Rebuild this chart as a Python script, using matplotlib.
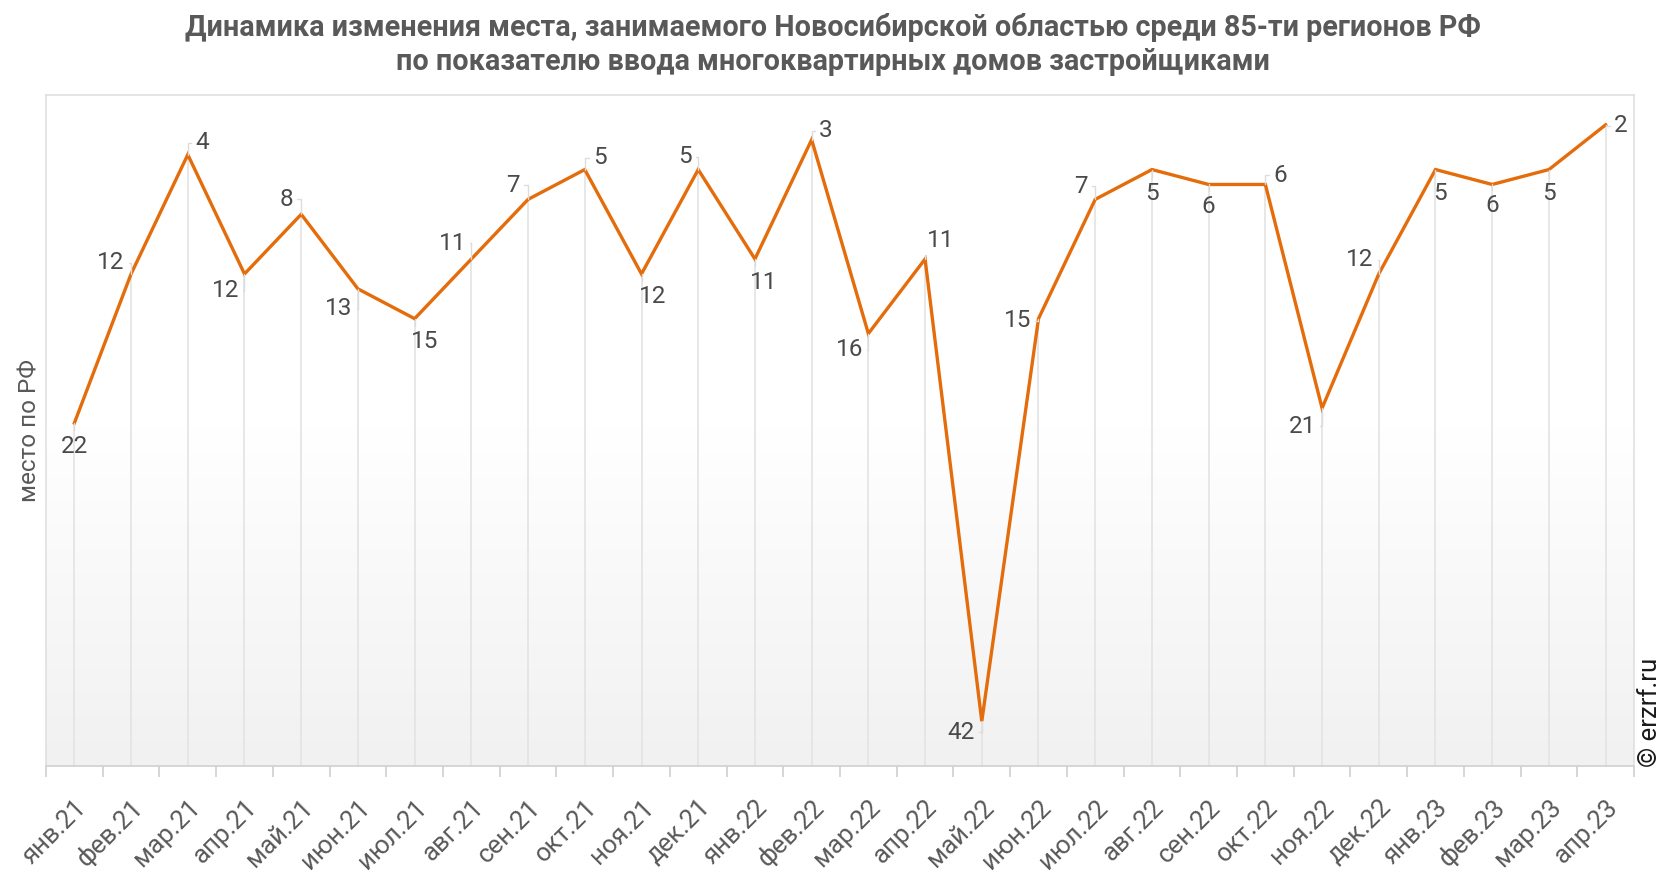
import numpy as np
import matplotlib.pyplot as plt
from matplotlib.colors import LinearSegmentedColormap

plt.rcParams['font.family'] = ['Roboto', 'DejaVu Sans']

# //////////// ДАННЫЕ ////////////
months = ['янв.21', 'фев.21', 'мар.21', 'апр.21', 'май.21', 'июн.21', 'июл.21',
          'авг.21', 'сен.21', 'окт.21', 'ноя.21', 'дек.21', 'янв.22', 'фев.22',
          'мар.22', 'апр.22', 'май.22', 'июн.22', 'июл.22', 'авг.22', 'сен.22',
          'окт.22', 'ноя.22', 'дек.22', 'янв.23', 'фев.23', 'мар.23', 'апр.23']
places = [22, 12, 4, 12, 8, 13, 15, 11, 7, 5, 12, 5, 11, 3,
          16, 11, 42, 15, 7, 5, 6, 6, 21, 12, 5, 6, 5, 2]

# смещения подписей (пиксели)
label_offsets = [(0, -23), (-20, 11), (14, 12), (-19, -17), (-15, 15), (-19, -20), (10, -23),
                 (-19, 16), (-15, 14), (15, 12), (11, -23), (-13, 13), (9, -23), (14, 9),
                 (-19, -16), (16, 19), (-21, -11), (-21, -2), (-14, 13), (0, -24), (0, -22),
                 (15, 9), (-20, -18), (-19, 14), (4, -24), (0, -21), (0, -24), (15, -1)]

orange = '#e46c0a'
y_bottom = 45

fig = plt.figure(figsize=(16.66, 8.72), dpi=100)
ax = fig.add_axes([46 / 1666, 1 - 766 / 872, (1634 - 46) / 1666, (766 - 95) / 872])

x = np.arange(len(months))
ax.set_xlim(-0.5, len(months) - 0.5)
ax.set_ylim(y_bottom, 0)

# фон-градиент (сверху белый, снизу серый)
cmap = LinearSegmentedColormap.from_list('bg', ['#ffffff', '#ffffff', '#f1f1f1'])
grad = np.linspace(0, 1, 256).reshape(-1, 1)
ax.imshow(grad, cmap=cmap, aspect='auto', extent=[0, 1, 0, 1],
          transform=ax.transAxes, zorder=0, interpolation='bicubic')

# вертикальные линии от точек
ax.vlines(x, places, y_bottom, color='#e3e3e3', linewidth=1.2, zorder=1)

ax.plot(x, places, color=orange, linewidth=2.4, zorder=3, solid_joinstyle='miter')

for xi, p, (dx, dy) in zip(x, places, label_offsets):
    ax.annotate(str(p), xy=(xi, p), xytext=(dx, dy), textcoords='offset pixels',
                ha='center', va='center', fontsize=17.5, color='#4a4a4a', zorder=4,
                arrowprops=dict(arrowstyle='-', color='#dcdcdc', lw=1.0,
                                connectionstyle='angle,angleA=0,angleB=90',
                                shrinkA=1, shrinkB=0))

ax.set_xticks(x)
ax.set_xticklabels(months, rotation=45, ha='right', rotation_mode='anchor',
                   fontsize=18.5, color='#595959')
ax.tick_params(axis='x', which='major', length=0, pad=21)
ax.set_xticks(np.arange(len(months) + 1) - 0.5, minor=True)
ax.tick_params(axis='x', which='minor', length=8, width=1.2, color='#d0d0d0')
ax.set_yticks([])

for side in ['top', 'right', 'left']:
    ax.spines[side].set_color('#e0e0e0')
    ax.spines[side].set_linewidth(1.2)
ax.spines['bottom'].set_color('#d0d0d0')
ax.spines['bottom'].set_linewidth(1.2)

ax.set_ylabel('место по РФ', fontsize=17.5, color='#595959', labelpad=3)

fig.text(0.5, 1 - 28 / 872, 'Динамика изменения места, занимаемого Новосибирской областью среди 85-ти регионов РФ',
         ha='center', va='center', fontsize=20.7, fontweight='bold', color='#595959')
fig.text(0.5, 1 - 62 / 872, 'по показателю ввода многоквартирных домов застройщиками',
         ha='center', va='center', fontsize=20.7, fontweight='bold', color='#595959')

fig.text(1650 / 1666, 1 - 712 / 872, '© erzrf.ru', rotation=90, ha='center', va='center',
         fontsize=18.5, color='#1a1a1a')

fig.savefig('out.png', dpi=100)
